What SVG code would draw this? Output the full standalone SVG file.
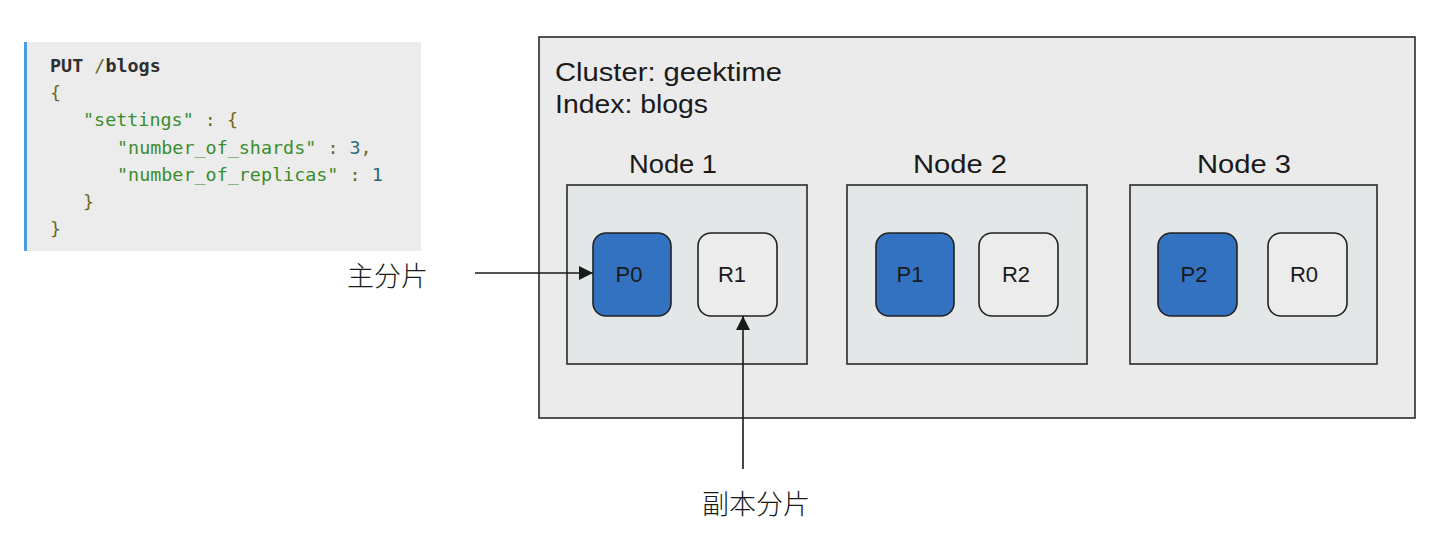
<svg xmlns="http://www.w3.org/2000/svg" width="1450" height="534" viewBox="0 0 1450 534">
<style>
.code{font-family:"DejaVu Sans Mono","Liberation Mono",monospace;font-size:18.4px;white-space:pre}
.kw{fill:#2f2f2f;font-weight:bold}
.op{fill:#6e6a1c}
.str{fill:#3c8c2c}
.num{fill:#2a6b78}
.lbl{font-family:"Helvetica Neue","Liberation Sans",Arial,sans-serif;fill:#1a1a1a;font-size:26px}
.cjk{font-family:"Noto Sans CJK SC","Liberation Sans",sans-serif;font-size:27px;fill:#1a1a1a;font-weight:300}
.node{fill:#e3e7e7;stroke:#2a2a2a;stroke-width:1.6}
.pri{fill:#3372c0;stroke:#222;stroke-width:1.6}
.rep{fill:#ececec;stroke:#222;stroke-width:1.6}
.shard{font-family:"Liberation Sans",Arial,sans-serif;font-size:22px;fill:#1a1a1a;text-anchor:middle}
.conn{stroke:#1a1a1a;stroke-width:1.6;fill:none}
</style>
<defs>
<marker id="arrB" viewBox="0 0 14 14" refX="14" refY="7" markerWidth="14" markerHeight="14" markerUnits="userSpaceOnUse" orient="auto">
<path d="M0,0 L14,7 L0,14 z" fill="#1a1a1a"/>
</marker>
</defs>
<rect width="1450" height="534" fill="#ffffff"/>

<g id="code">
<rect x="24" y="42" width="397" height="209" fill="#ececec"/>
<rect x="24" y="42" width="3" height="209" fill="#4a9be0"/>
<text class="code" x="50" y="72"><tspan class="kw">PUT</tspan> <tspan class="op">/</tspan><tspan class="kw">blogs</tspan></text>
<text class="code op" x="50" y="99">{</text>
<text class="code" x="83" y="126"><tspan class="str">"settings"</tspan><tspan class="op"> : {</tspan></text>
<text class="code" x="117" y="154"><tspan class="str">"number_of_shards"</tspan><tspan class="op"> : </tspan><tspan class="num">3</tspan><tspan class="op">,</tspan></text>
<text class="code" x="117" y="181"><tspan class="str">"number_of_replicas"</tspan><tspan class="op"> : </tspan><tspan class="num">1</tspan></text>
<text class="code op" x="83" y="208">}</text>
<text class="code op" x="50" y="235">}</text>
</g>

<g id="cluster">
<rect x="539" y="37" width="876" height="381" fill="#ebebeb" stroke="#2a2a2a" stroke-width="1.6"/>
<text class="lbl" x="555" y="81" textLength="227" lengthAdjust="spacingAndGlyphs">Cluster: geektime</text>
<text class="lbl" x="555" y="113" textLength="153" lengthAdjust="spacingAndGlyphs">Index: blogs</text>
</g>

<g id="node1">
<text class="lbl" x="629" y="173" textLength="88" lengthAdjust="spacingAndGlyphs">Node 1</text>
<rect class="node" x="567" y="185" width="240" height="179"/>
</g>
<g id="node2">
<text class="lbl" x="913" y="173" textLength="94" lengthAdjust="spacingAndGlyphs">Node 2</text>
<rect class="node" x="847" y="185" width="240" height="179"/>
</g>
<g id="node3">
<text class="lbl" x="1197" y="173" textLength="94" lengthAdjust="spacingAndGlyphs">Node 3</text>
<rect class="node" x="1130" y="185" width="247" height="179"/>
</g>

<g id="P0"><rect class="pri" x="593" y="233" width="78" height="83" rx="13"/><text class="shard" x="629" y="282">P0</text></g>
<g id="R1"><rect class="rep" x="698" y="233" width="79" height="83" rx="13"/><text class="shard" x="732" y="282">R1</text></g>
<g id="P1"><rect class="pri" x="876" y="233" width="78" height="83" rx="13"/><text class="shard" x="910" y="282">P1</text></g>
<g id="R2"><rect class="rep" x="979" y="233" width="79" height="83" rx="13"/><text class="shard" x="1016" y="282">R2</text></g>
<g id="P2"><rect class="pri" x="1158" y="233" width="79" height="83" rx="13"/><text class="shard" x="1194" y="282">P2</text></g>
<g id="R0"><rect class="rep" x="1268" y="233" width="79" height="83" rx="13"/><text class="shard" x="1304" y="282">R0</text></g>

<g id="label-primary"><text class="cjk" x="347" y="286">主分片</text></g>
<g id="label-replica"><text class="cjk" x="702" y="514">副本分片</text></g>

<g id="connectors">
<line class="conn" x1="475" y1="273" x2="593" y2="273" marker-end="url(#arrB)"/>
<line class="conn" x1="743" y1="469" x2="743" y2="316" marker-end="url(#arrB)"/>
</g>
</svg>
